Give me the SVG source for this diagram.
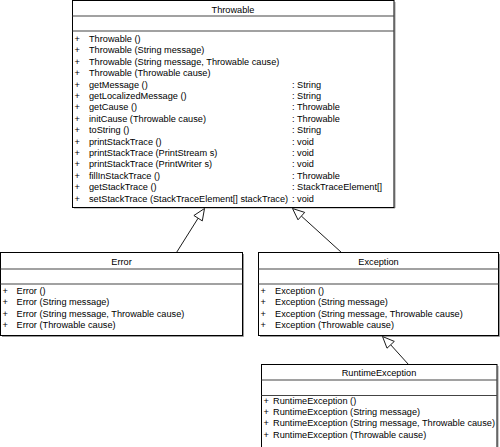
<svg xmlns="http://www.w3.org/2000/svg" width="500" height="447" viewBox="0 0 500 447">
<style>
text{font-family:"Liberation Sans",Arial,sans-serif;font-size:9.2px;fill:#000}
.t{text-anchor:middle}
.box{fill:#fff;stroke:#000;stroke-width:1}
.sh{fill:none;stroke:#999;stroke-width:1}
.sep{stroke:#444;stroke-width:1.2}
.conn line{stroke:#000;stroke-width:0.9}
.conn polygon{fill:#fff;stroke:#000;stroke-width:0.9}
</style>
<rect width="500" height="447" fill="#fff"/>
<g id="Throwable">
<polyline class="sh" points="395,2 395,208 74,208"/>
<rect class="box" x="72.5" y="0.5" width="321.5" height="207"/>
<line class="sep" x1="72.5" y1="16" x2="394" y2="16"/>
<line class="sep" x1="72.5" y1="31" x2="394" y2="31"/>
<text class="t" x="233" y="12.5">Throwable</text>
<g>
<text x="74.5" y="42">+</text><text x="89" y="42">Throwable ()</text>
<text x="74.5" y="53.4">+</text><text x="89" y="53.4">Throwable (String message)</text>
<text x="74.5" y="64.8">+</text><text x="89" y="64.8">Throwable (String message, Throwable cause)</text>
<text x="74.5" y="76.2">+</text><text x="89" y="76.2">Throwable (Throwable cause)</text>
<text x="74.5" y="87.6">+</text><text x="89" y="87.6">getMessage ()</text><text x="292" y="87.6">: String</text>
<text x="74.5" y="99">+</text><text x="89" y="99">getLocalizedMessage ()</text><text x="292" y="99">: String</text>
<text x="74.5" y="110.4">+</text><text x="89" y="110.4">getCause ()</text><text x="292" y="110.4">: Throwable</text>
<text x="74.5" y="121.8">+</text><text x="89" y="121.8">initCause (Throwable cause)</text><text x="292" y="121.8">: Throwable</text>
<text x="74.5" y="133.2">+</text><text x="89" y="133.2">toString ()</text><text x="292" y="133.2">: String</text>
<text x="74.5" y="144.6">+</text><text x="89" y="144.6">printStackTrace ()</text><text x="292" y="144.6">: void</text>
<text x="74.5" y="156">+</text><text x="89" y="156">printStackTrace (PrintStream s)</text><text x="292" y="156">: void</text>
<text x="74.5" y="167.4">+</text><text x="89" y="167.4">printStackTrace (PrintWriter s)</text><text x="292" y="167.4">: void</text>
<text x="74.5" y="178.8">+</text><text x="89" y="178.8">fillInStackTrace ()</text><text x="292" y="178.8">: Throwable</text>
<text x="74.5" y="190.2">+</text><text x="89" y="190.2">getStackTrace ()</text><text x="292" y="190.2">: StackTraceElement[]</text>
<text x="74.5" y="201.6">+</text><text x="89" y="201.6">setStackTrace (StackTraceElement[] stackTrace)</text><text x="292" y="201.6">: void</text>
</g>
</g>
<g id="Error">
<polyline class="sh" points="243.5,254 243.5,336.5 2,336.5"/>
<rect class="box" x="0.5" y="252.5" width="242" height="83"/>
<line class="sep" x1="0.5" y1="269" x2="242.5" y2="269"/>
<line class="sep" x1="0.5" y1="284" x2="242.5" y2="284"/>
<text class="t" x="121.5" y="264.5">Error</text>
<text x="2.5" y="294">+</text><text x="16.5" y="294">Error ()</text>
<text x="2.5" y="305.4">+</text><text x="16.5" y="305.4">Error (String message)</text>
<text x="2.5" y="316.8">+</text><text x="16.5" y="316.8">Error (String message, Throwable cause)</text>
<text x="2.5" y="328.2">+</text><text x="16.5" y="328.2">Error (Throwable cause)</text>
</g>
<g id="Exception">
<polyline class="sh" points="499.5,254 499.5,336.5 260,336.5"/>
<rect class="box" x="258.5" y="252.5" width="240" height="83"/>
<line class="sep" x1="258.5" y1="269" x2="498.5" y2="269"/>
<line class="sep" x1="258.5" y1="284" x2="498.5" y2="284"/>
<text class="t" x="378.5" y="264.5">Exception</text>
<text x="260.5" y="294">+</text><text x="275" y="294">Exception ()</text>
<text x="260.5" y="305.4">+</text><text x="275" y="305.4">Exception (String message)</text>
<text x="260.5" y="316.8">+</text><text x="275" y="316.8">Exception (String message, Throwable cause)</text>
<text x="260.5" y="328.2">+</text><text x="275" y="328.2">Exception (Throwable cause)</text>
</g>
<g id="RuntimeException">
<polyline class="sh" points="498,366 498,448"/>
<rect class="box" x="261.5" y="364.5" width="235.5" height="84"/>
<line class="sep" x1="261.5" y1="380" x2="497" y2="380"/>
<line class="sep" x1="261.5" y1="395.5" x2="497" y2="395.5"/>
<text class="t" x="379" y="376">RuntimeException</text>
<text x="263.5" y="403.5">+</text><text x="273" y="403.5">RuntimeException ()</text>
<text x="263.5" y="414.9">+</text><text x="273" y="414.9">RuntimeException (String message)</text>
<text x="263.5" y="426.3">+</text><text x="273" y="426.3">RuntimeException (String message, Throwable cause)</text>
<text x="263.5" y="437.7">+</text><text x="273" y="437.7">RuntimeException (Throwable cause)</text>
</g>
<g id="connectors" class="conn">
<line x1="176.5" y1="252.5" x2="198.1" y2="218.2"/>
<polygon points="204.5,208.5 202.3,220.9 193.9,215.5"/>
<line x1="341.5" y1="252.5" x2="301.4" y2="216.1"/>
<polygon points="292.5,208.5 304.7,212.4 298,219.8"/>
<line x1="408.5" y1="364.5" x2="390.7" y2="344.8"/>
<polygon points="382.5,336.5 394.3,341.4 387,348.2"/>
</g>
</svg>
